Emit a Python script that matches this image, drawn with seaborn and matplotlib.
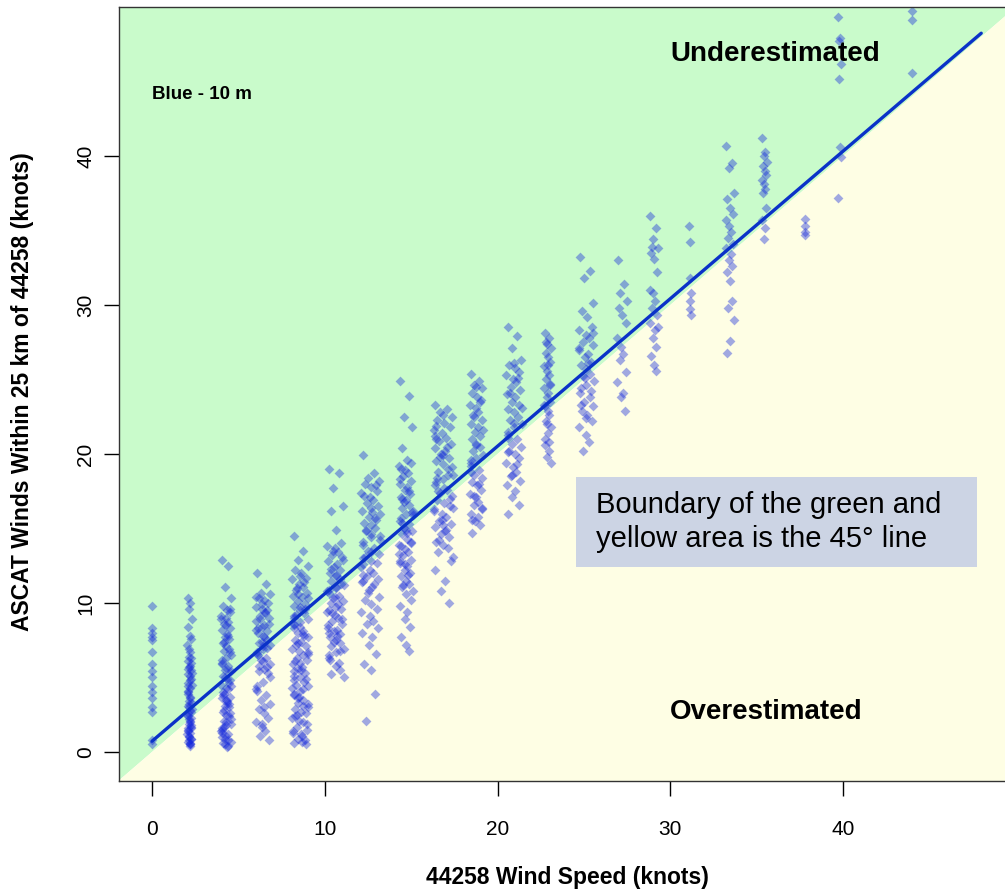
import numpy as np
import pandas as pd
import matplotlib
matplotlib.use("Agg")
import matplotlib.pyplot as plt
import seaborn as sns
from matplotlib.patches import Rectangle

sns.set_style("ticks")
plt.rcParams["font.family"] = ["Liberation Sans", "DejaVu Sans"]
plt.rcParams.update({"text.color": "black", "axes.labelcolor": "black",
                     "xtick.color": "black", "ytick.color": "black"})

# buoy 44258 wind speed bins: x extent of each column (knots) and ASCAT winds (knots)
x_00 = [0.0, 0.02]
y_00 = [9.8, 8.3, 8.0, 7.7, 7.5, 6.7, 5.9, 5.4, 5.0, 4.4, 4.0, 3.6, 3.0, 2.7, 0.8, 0.5]

x_02 = [2.05, 2.3]
y_02 = [10.3, 10.0, 9.6, 8.9, 8.4, 7.8, 7.6, 7.2, 6.9, 6.7, 6.4, 6.3, 6.1, 5.8, 5.7,
        5.5, 5.2, 5.1, 4.9, 4.6, 4.5, 4.3, 4.0, 3.9, 3.7, 3.4, 3.3, 3.1, 2.8, 2.7,
        2.5, 2.2, 2.1, 1.9, 1.6, 1.5, 1.3, 1.0, 0.9, 0.7, 0.5, 6.0, 5.6, 5.3, 4.8,
        4.4, 4.1, 3.6, 3.2, 2.9, 2.4, 2.0, 1.7, 1.2, 0.8, 0.4, 3.0, 2.3, 1.4, 0.6,
        1.1, 1.8, 2.6, 0.5, 0.9, 1.6]

x_04 = [4.0, 4.6]
y_04 = [12.9, 12.5, 11.1, 10.3, 9.8, 9.5, 9.4, 9.1, 9.0, 8.7, 8.6, 8.3, 8.2, 7.9, 7.7,
        7.6, 7.3, 7.1, 6.9, 6.8, 6.5, 6.3, 6.2, 5.9, 5.8, 5.5, 5.4, 5.1, 4.9, 4.8,
        4.5, 4.3, 4.2, 3.9, 3.7, 3.6, 3.3, 3.1, 3.0, 2.7, 2.5, 2.4, 2.1, 1.9, 1.8,
        1.5, 1.3, 1.2, 0.9, 0.7, 0.6, 0.3, 9.6, 8.9, 8.5, 7.8, 7.4, 6.7, 6.0, 5.6,
        5.0, 4.6, 4.0, 3.5, 3.2, 2.8, 2.2, 2.0, 1.6, 1.0, 0.8, 0.5, 4.4, 3.8, 3.4,
        2.6, 1.4, 1.1, 0.4, 1.7]

x_06 = [6.0, 6.85]
y_06 = [12.0, 11.3, 10.7, 10.6, 10.3, 10.2, 10.0, 9.7, 9.6, 9.3, 9.1, 9.0, 8.8, 8.5,
        8.4, 8.1, 8.0, 7.8, 7.5, 7.3, 7.2, 6.9, 6.7, 6.6, 6.3, 6.2, 5.9, 5.8, 5.6,
        5.3, 10.4, 9.9, 9.4, 8.9, 8.6, 8.2, 7.7, 7.4, 7.0, 6.5, 6.1, 5.7, 5.4, 5.0,
        4.7, 4.4, 4.1, 3.8, 3.5, 3.2, 2.9, 2.6, 2.3, 2.0, 1.7, 1.4, 1.1, 0.8, 4.2,
        3.0, 1.9, 9.5, 8.3, 7.1]

x_08 = [8.1, 9.05]
y_08 = [14.5, 13.5, 12.9, 12.5, 12.2, 12.0, 11.7, 11.6, 11.3, 11.1, 11.0, 10.7, 10.5,
        10.4, 10.1, 9.9, 9.8, 9.5, 9.3, 9.2, 8.9, 8.7, 8.6, 8.3, 8.1, 8.0, 7.7, 7.5,
        7.4, 7.1, 6.9, 6.8, 6.5, 6.3, 6.2, 5.9, 5.7, 5.6, 5.3, 5.1, 5.0, 4.7, 4.5,
        4.4, 4.1, 3.9, 3.8, 3.5, 3.3, 3.2, 2.9, 2.7, 2.6, 2.3, 2.1, 2.0, 1.7, 1.5,
        1.4, 1.1, 0.9, 0.8, 0.6, 11.8, 11.4, 10.9, 10.3, 9.7, 9.1, 8.5, 7.9, 7.3,
        6.7, 6.1, 5.5, 4.9, 4.3, 3.7, 3.1, 2.5, 1.9, 1.3, 0.7, 10.6, 9.6, 9.0, 8.4,
        7.8, 7.2, 6.6, 6.0, 5.4, 4.8, 4.2, 3.6, 3.0, 2.4, 1.2, 0.5]

x_10 = [10.15, 11.1]
y_10 = [19.0, 18.7, 17.7, 16.5, 16.2, 14.9, 14.0, 13.8, 13.7, 13.4, 13.2, 13.1, 12.8,
        12.6, 12.4, 12.2, 12.0, 11.8, 11.6, 11.5, 11.2, 11.1, 10.9, 10.7, 10.5,
        10.3, 10.1, 10.0, 9.7, 9.6, 9.4, 9.2, 9.0, 8.8, 8.6, 8.5, 8.2, 8.1, 7.9,
        7.7, 7.5, 7.3, 7.1, 6.9, 6.7, 6.5, 6.3, 6.0, 13.5, 12.9, 12.3, 11.9, 11.3,
        10.8, 10.4, 9.9, 9.3, 8.9, 8.3, 7.8, 7.4, 6.8, 6.2, 5.8, 5.5, 5.2, 5.0,
        11.0, 9.5, 8.0]

x_12 = [12.1, 13.2]
y_12 = [19.9, 18.7, 18.4, 18.2, 18.0, 17.8, 17.5, 17.4, 17.1, 16.9, 16.7, 16.5, 16.2,
        16.1, 15.8, 15.6, 15.4, 15.2, 15.0, 14.8, 14.5, 14.4, 14.1, 13.9, 13.7,
        13.5, 13.3, 13.1, 12.8, 12.7, 12.4, 12.2, 12.0, 11.8, 11.6, 11.4, 11.1,
        10.9, 17.9, 17.2, 16.4, 15.7, 14.9, 14.2, 13.4, 12.6, 11.9, 11.3, 10.7,
        10.4, 10.2, 9.9, 9.6, 9.4, 9.1, 8.8, 8.6, 8.3, 8.0, 7.7, 7.2, 6.6, 5.9, 5.5,
        3.9, 2.1, 16.0, 14.6, 13.0, 11.5]

x_14 = [14.3, 15.1]
y_14 = [24.9, 23.9, 22.5, 21.8, 20.4, 19.6, 19.4, 19.2, 18.9, 18.7, 18.5, 18.2, 18.0,
        17.8, 17.6, 17.3, 17.1, 16.9, 16.6, 16.4, 16.2, 16.0, 15.7, 15.5, 15.3,
        15.0, 14.8, 14.6, 14.3, 14.1, 13.9, 13.6, 13.4, 13.2, 12.9, 12.7, 12.5,
        12.2, 12.0, 11.8, 11.5, 11.3, 11.1, 10.8, 10.6, 19.0, 18.3, 17.5, 16.8,
        16.1, 15.4, 14.7, 14.0, 13.3, 12.6, 11.9, 11.2, 10.2, 9.8, 9.4, 8.9, 8.4,
        7.7, 7.2, 6.8, 17.0, 15.9, 14.9, 13.8, 12.8]

x_16 = [16.3, 17.4]
y_16 = [23.3, 23.0, 22.8, 22.5, 22.3, 22.1, 21.8, 21.6, 21.4, 21.1, 20.9, 20.7, 20.4,
        20.2, 20.0, 19.7, 19.5, 19.3, 19.0, 18.8, 18.6, 18.3, 18.1, 17.9, 17.6,
        17.4, 17.2, 16.9, 16.7, 16.5, 16.2, 16.0, 15.8, 15.5, 15.3, 15.1, 14.8,
        14.6, 14.4, 14.1, 13.9, 13.7, 13.4, 13.1, 22.6, 21.9, 21.2, 20.5, 19.8,
        19.1, 18.4, 17.7, 17.0, 16.3, 15.6, 14.9, 14.2, 12.8, 12.2, 11.5, 10.8,
        10.0, 21.0, 19.9, 18.6, 17.5, 16.4, 15.2]

x_18 = [18.4, 19.15]
y_18 = [25.4, 24.9, 24.6, 24.4, 24.1, 23.8, 23.6, 23.3, 23.1, 22.8, 22.5, 22.3, 22.0,
        21.8, 21.5, 21.2, 21.0, 20.7, 20.5, 20.2, 19.9, 19.7, 19.4, 19.2, 18.9,
        18.6, 18.4, 18.1, 17.9, 17.6, 17.3, 17.1, 16.8, 16.6, 16.3, 16.0, 15.8,
        15.5, 15.2, 14.7, 24.5, 23.5, 22.6, 21.6, 20.6, 19.6, 18.8, 18.0, 17.2,
        16.4, 15.6]

x_21 = [20.5, 21.4]
y_21 = [28.5, 27.9, 27.1, 26.3, 26.0, 25.8, 25.5, 25.3, 25.0, 24.8, 24.5, 24.3, 24.0,
        23.8, 23.5, 23.3, 23.0, 22.8, 22.5, 22.3, 22.0, 21.8, 21.5, 21.3, 21.0,
        20.7, 20.5, 20.2, 20.0, 19.7, 19.4, 19.1, 18.8, 18.5, 18.2, 17.9, 17.5,
        17.1, 16.6, 16.0, 26.1, 25.1, 24.1, 23.1, 22.1, 21.1, 20.1, 19.3, 18.6]

x_23 = [22.7, 23.1]
y_23 = [28.1, 27.8, 27.4, 27.1, 26.8, 26.5, 26.2, 25.9, 25.6, 25.3, 25.0, 24.7, 24.4,
        24.1, 23.8, 23.5, 23.2, 22.9, 22.6, 22.2, 21.8, 21.4, 21.0, 20.6, 20.2,
        19.8, 19.4, 27.5, 26.0, 24.6, 23.3, 22.0, 20.8]

x_25 = [24.7, 25.6]
y_25 = [33.2, 32.3, 31.8, 30.1, 29.6, 29.2, 28.5, 28.3, 28.0, 27.8, 27.5, 27.3, 27.0,
        26.7, 26.5, 26.2, 26.0, 25.7, 25.4, 25.2, 24.9, 24.6, 24.4, 24.1, 23.8,
        23.5, 23.2, 22.9, 22.6, 22.2, 21.8, 21.3, 20.8, 20.2, 28.1, 27.1, 26.1,
        25.1, 24.2, 23.3, 22.4]

x_27 = [26.9, 27.5]
y_27 = [33.0, 31.4, 30.8, 30.3, 29.8, 29.3, 28.8, 27.8, 27.2, 26.7, 26.3, 25.5, 24.8,
        24.1, 23.8, 22.9]

x_29 = [28.8, 29.3]
y_29 = [36.0, 35.2, 34.4, 33.8, 33.5, 33.1, 32.2, 31.0, 30.8, 30.3, 29.8, 29.3, 28.8,
        28.3, 27.8, 27.2, 26.6, 26.0, 25.6, 33.9, 28.5]

x_31 = [31.1, 31.2]
y_31 = [35.3, 34.2, 31.8, 30.8, 30.3, 29.7, 29.3]

x_33 = [33.2, 33.7]
y_33 = [40.7, 39.5, 39.2, 37.5, 37.1, 36.5, 36.1, 35.7, 35.3, 34.9, 34.5, 34.1, 33.8,
        33.4, 33.0, 32.6, 32.2, 31.6, 30.3, 29.8, 29.0, 27.6, 26.8]

x_35 = [35.3, 35.6]
y_35 = [41.2, 40.3, 40.0, 39.6, 39.3, 39.0, 38.7, 38.4, 38.1, 37.8, 37.5, 36.5, 35.7,
        35.2, 34.4]

x_38 = [37.8, 37.82]
y_38 = [35.8, 35.3, 34.9, 34.7]

x_40 = [39.7, 39.9]
y_40 = [49.3, 47.9, 47.7, 46.2, 45.2, 40.6, 39.9, 37.2]

x_44 = [44.0, 44.02]
y_44 = [49.7, 49.1, 45.6]

# fixed spread pattern of points across a column (fraction of the column width)
spread = [0.1, 0.7, 0.35, 0.95, 0.2, 0.55, 0.85, 0.0, 0.45, 0.65, 0.3, 0.9, 0.05,
          0.6, 0.4, 0.8, 0.15, 0.5, 0.75, 0.25, 1.0, 0.5, 0.12]

# fitted line as drawn on the plot (slope, intercept) and its x extent
fit_coef = [0.99, 0.72]
fit_x = [0, 48]

bins = [(x_00, y_00), (x_02, y_02), (x_04, y_04), (x_06, y_06), (x_08, y_08),
        (x_10, y_10), (x_12, y_12), (x_14, y_14), (x_16, y_16), (x_18, y_18),
        (x_21, y_21), (x_23, y_23), (x_25, y_25), (x_27, y_27), (x_29, y_29),
        (x_31, y_31), (x_33, y_33), (x_35, y_35), (x_38, y_38), (x_40, y_40),
        (x_44, y_44)]

rows = []
for (lo, hi), ys in bins:
    for i, v in enumerate(ys):
        rows.append((lo + spread[i % len(spread)] * (hi - lo), v))
df = pd.DataFrame(rows, columns=["buoy", "ascat"])

green = "#c9fbcb"
yellow = "#fefee4"

fig = plt.figure(figsize=(10.05, 8.91), dpi=100)
ax = fig.add_axes([119 / 1005, 110 / 891, 889 / 1005, 774 / 891])

# green above / yellow below the 45 degree line
xx = np.array([-10, 60])
ax.fill_between(xx, xx, 80, color=green, lw=0, zorder=0)
ax.fill_between(xx, -10, xx, color=yellow, lw=0, zorder=0)

sns.scatterplot(data=df, x="buoy", y="ascat", marker="D", s=25, color="#1428dc",
                alpha=0.4, linewidth=0, ax=ax, zorder=2)

sns.lineplot(x=fit_x, y=np.polyval(fit_coef, fit_x), color="#0a32c8", lw=2.4, ax=ax,
             zorder=3)

ax.set_xlim(-1.91, 49.55)
ax.set_ylim(-1.95, 50.0)
ax.set_xticks([0, 10, 20, 30, 40])
ax.set_yticks([0, 10, 20, 30, 40])
ax.tick_params(axis="both", length=11, width=1, labelsize=15)
ax.tick_params(axis="x", pad=17)
ax.tick_params(axis="y", pad=6, labelrotation=90)
for lab in ax.get_yticklabels():
    lab.set_va("center")
for sp in ax.spines.values():
    sp.set_color("#333333")
    sp.set_linewidth(1.0)

ax.set_xlabel("44258 Wind Speed (knots)", fontsize=16.5, fontweight="bold", va="center")
ax.xaxis.set_label_coords(0.504, -0.1253)
ax.set_ylabel("ASCAT Winds Within 25 km of 44258 (knots)", fontsize=16.5,
              fontweight="bold", va="center")
ax.yaxis.set_label_coords(-0.109, 0.5026)

ax.text(30.0, 46.85, "Underestimated", fontsize=20, fontweight="bold", va="center",
        zorder=4)
ax.text(30.0, 2.7, "Overestimated", fontsize=20, fontweight="bold", va="center",
        zorder=4)
ax.text(0.0, 44.1, "Blue - 10 m", fontsize=13.5, fontweight="bold", va="center",
        zorder=4)

ax.add_patch(Rectangle((24.54, 12.42), 23.22, 6.04, color="#ccd4e4", lw=0, zorder=5))
ax.text(25.7, 15.44, "Boundary of the green and\nyellow area is the 45° line",
        fontsize=21, va="center", linespacing=1.3, zorder=6)

fig.savefig("out.png", dpi=100)
